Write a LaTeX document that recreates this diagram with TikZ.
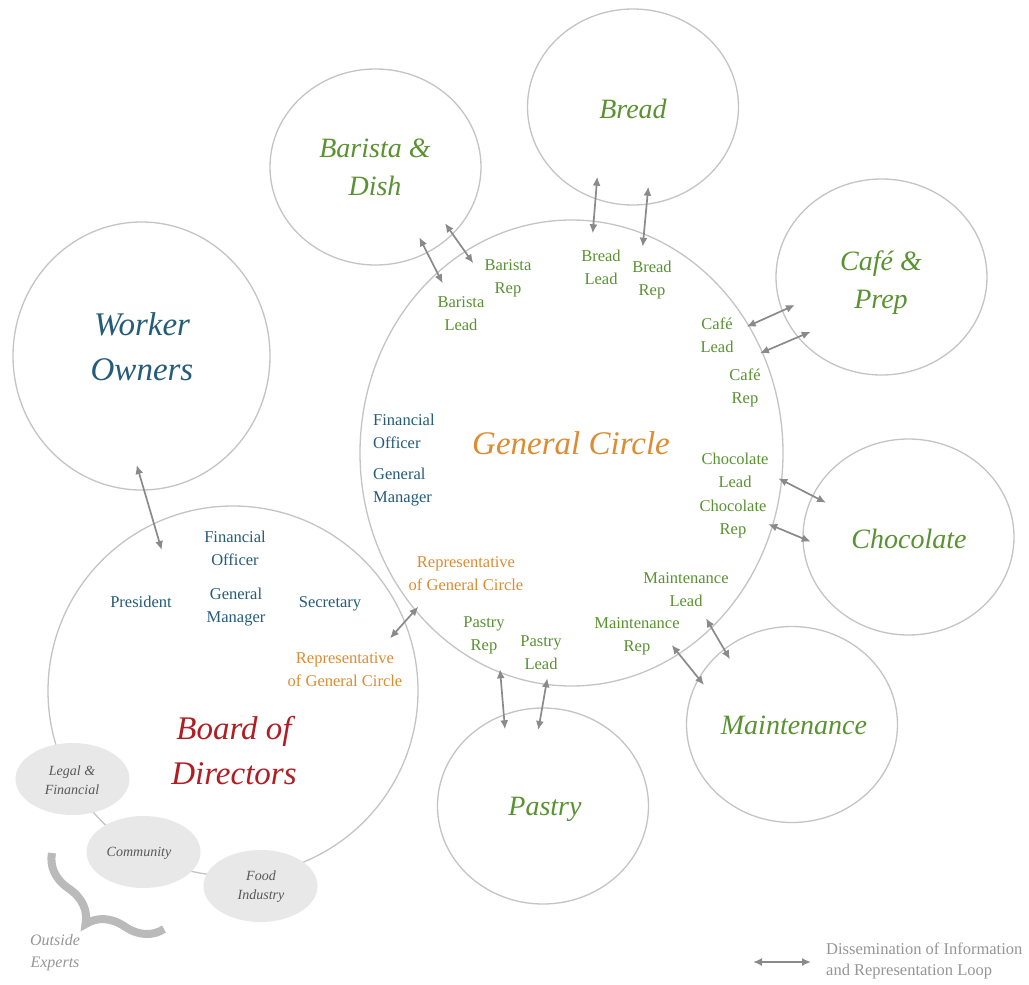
\documentclass[tikz,border=0pt]{standalone}
\usepackage{fontspec}
\setmainfont{Liberation Serif}
\usetikzlibrary{shapes.geometric,arrows.meta,decorations.pathreplacing}

\definecolor{ringgray}{RGB}{196,196,196}
\definecolor{arrowgray}{RGB}{138,138,138}
\definecolor{teamgreen}{RGB}{90,146,50}
\definecolor{officeblue}{RGB}{36,92,122}
\definecolor{circleorange}{RGB}{221,140,50}
\definecolor{boardred}{RGB}{176,30,36}
\definecolor{expertfill}{RGB}{232,232,232}
\definecolor{experttext}{RGB}{88,88,88}
\definecolor{notegray}{RGB}{150,150,150}
\definecolor{bracegray}{RGB}{186,186,186}

\begin{document}
\begin{tikzpicture}[x=1pt,y=-1pt,
  ring/.style={draw=ringgray, line width=1.3pt, ellipse, inner sep=0pt},
  team/.style={ring, minimum width=211pt, minimum height=196pt},
  expert/.style={fill=expertfill, ellipse, inner sep=0pt, minimum width=114pt,
    minimum height=72pt},
  link/.style={draw=arrowgray, line width=1.7pt,
    {Latex[length=9pt,width=8pt]}-{Latex[length=9pt,width=8pt]}},
  small/.style={inner sep=0pt, align=center, font=\fontsize{16.5}{23}\selectfont},
  role/.style={small, text=teamgreen},
  office/.style={small, text=officeblue},
  liaison/.style={small, text=circleorange},
  bigname/.style={inner sep=0pt, align=center, font=\fontsize{33}{45}\selectfont\itshape},
  teamname/.style={inner sep=0pt, align=center, text=teamgreen,
    font=\fontsize{28}{38}\selectfont\itshape},
  expertname/.style={inner sep=0pt, align=center, text=experttext,
    font=\fontsize{14}{19}\selectfont\itshape},
]
\fill[white] (0,0) rectangle (1029,985);
\path[use as bounding box] (0,0) rectangle (1029,985);

% ---- circles ----
\node[ring, minimum width=423pt, minimum height=466pt] (gc) at (571.5,453) {};
\node[ring, minimum width=257pt, minimum height=268pt] (wo) at (141.5,356) {};
\node[ring, minimum width=370pt, minimum height=370pt] (bd) at (233,691) {};
\node[team] (barista) at (375.5,167) {};
\node[team] (bread) at (633,107) {};
\node[team] (cafe) at (881.5,277) {};
\node[team] (choc) at (908.5,537) {};
\node[team] (maint) at (792,724.5) {};
\node[team] (pastry) at (543,806) {};

% ---- outside experts on the board's rim ----
\node[expert] (legal) at (72.5,779) {};
\node[expert] (community) at (143.5,852) {};
\node[expert] (food) at (260.5,886) {};
\node[expertname] (legalt) at (72,780) {Legal \&\\Financial};
\node[expertname] (communityt) at (139,853) {Community};
\node[expertname] (foodt) at (261,887) {Food\\Industry};

\coordinate (braceA) at (52,853);
\coordinate (braceB) at (164,929);
\draw[bracegray, line width=8pt, decorate, decoration={brace, amplitude=40pt}]
  (braceB) -- (braceA);
\node[inner sep=0pt, align=center, text=notegray, font=\fontsize{16}{22}\selectfont\itshape]
  (experts) at (55,953) {Outside\\Experts};

% ---- main names ----
\node[bigname, text=officeblue] (wot) at (142,346.5) {Worker\\Owners};
\node[bigname, text=circleorange] (gct) at (571,443) {General Circle};
\node[bigname, text=boardred] (bdt) at (234,751) {Board of\\Directors};

\node[teamname] (baristat) at (375,167) {Barista \&\\Dish};
\node[teamname] (breadt) at (633,109) {Bread};
\node[teamname] (cafet) at (881,283) {Café \&\\Prep};
\node[teamname] (choct) at (909,538.5) {Chocolate};
\node[teamname] (maintt) at (794,725) {Maintenance};
\node[teamname] (pastryt) at (545,809) {Pastry};

% ---- roles in the general circle ----
\node[role] (barrep) at (508,278) {Barista\\Rep};
\node[role] (barlead) at (461,314) {Barista\\Lead};
\node[role] (brlead) at (601,267) {Bread\\Lead};
\node[role] (brrep) at (652,280) {Bread\\Rep};
\node[role] (cflead) at (717,335) {Café\\Lead};
\node[role] (cfrep) at (745,388) {Café\\Rep};
\node[role] (chlead) at (735,470) {Chocolate\\Lead};
\node[role] (chrep) at (733,519) {Chocolate\\Rep};
\node[role] (mnlead) at (686,590) {Maintenance\\Lead};
\node[role] (mnrep) at (637,636) {Maintenance\\Rep};
\node[role] (psrep) at (484,635) {Pastry\\Rep};
\node[role] (pslead) at (541,653) {Pastry\\Lead};
\node[office, anchor=west, align=left] (gcfo) at (373,431) {Financial\\Officer};
\node[office, anchor=west, align=left] (gcgm) at (373,487) {General\\Manager};
\node[liaison] (gcrep) at (466,574) {Representative\\of General Circle};

% ---- roles on the board ----
\node[office] (bdfo) at (235,548) {Financial\\Officer};
\node[office] (bdpres) at (141,602) {President};
\node[office] (bdgm) at (236,607) {General\\Manager};
\node[office] (bdsec) at (330,604) {Secretary};
\node[liaison] (bdrep) at (345,670) {Representative\\of General Circle};

% ---- arrow end points ----
\coordinate (woA) at (136.7,465);   \coordinate (woB) at (161.7,550);
\coordinate (ba1A) at (419.3,237.3); \coordinate (ba1B) at (442.7,283.3);
\coordinate (ba2A) at (445,223.3);   \coordinate (ba2B) at (473.3,263.3);
\coordinate (br1A) at (597.3,176.7); \coordinate (br1B) at (592.7,233.3);
\coordinate (br2A) at (648.3,186.7); \coordinate (br2B) at (642.7,246.7);
\coordinate (cf1A) at (746.7,326.7); \coordinate (cf1B) at (795,305);
\coordinate (cf2A) at (760,353.3);   \coordinate (cf2B) at (810.7,331.7);
\coordinate (ch1A) at (778.3,478.3); \coordinate (ch1B) at (826,502.7);
\coordinate (ch2A) at (768.3,524);   \coordinate (ch2B) at (810.7,541.7);
\coordinate (mn1A) at (706,618.3);   \coordinate (mn1B) at (730,659.3);
\coordinate (mn2A) at (671.7,645);   \coordinate (mn2B) at (704,685);
\coordinate (ps1A) at (500,669.3);   \coordinate (ps1B) at (505,729.3);
\coordinate (ps2A) at (547.3,678.3); \coordinate (ps2B) at (538.3,730);
\coordinate (bgA) at (418.3,606.7);  \coordinate (bgB) at (390,638.3);
\coordinate (keyA) at (753,962);     \coordinate (keyB) at (811,962);

% ---- dissemination loops ----
\draw[link] (woA) -- (woB);
\draw[link] (ba1A) -- (ba1B);
\draw[link] (ba2A) -- (ba2B);
\draw[link] (br1A) -- (br1B);
\draw[link] (br2A) -- (br2B);
\draw[link] (cf1A) -- (cf1B);
\draw[link] (cf2A) -- (cf2B);
\draw[link] (ch1A) -- (ch1B);
\draw[link] (ch2A) -- (ch2B);
\draw[link] (mn1A) -- (mn1B);
\draw[link] (mn2A) -- (mn2B);
\draw[link] (ps1A) -- (ps1B);
\draw[link] (ps2A) -- (ps2B);
\draw[link] (bgA) -- (bgB);

% ---- key ----
\draw[link] (keyA) -- (keyB);
\node[inner sep=0pt, anchor=west, align=left, text=notegray,
  font=\fontsize{16.5}{21}\selectfont] (keyt) at (826,961)
  {Dissemination of Information\\and Representation Loop};
\end{tikzpicture}
\end{document}
